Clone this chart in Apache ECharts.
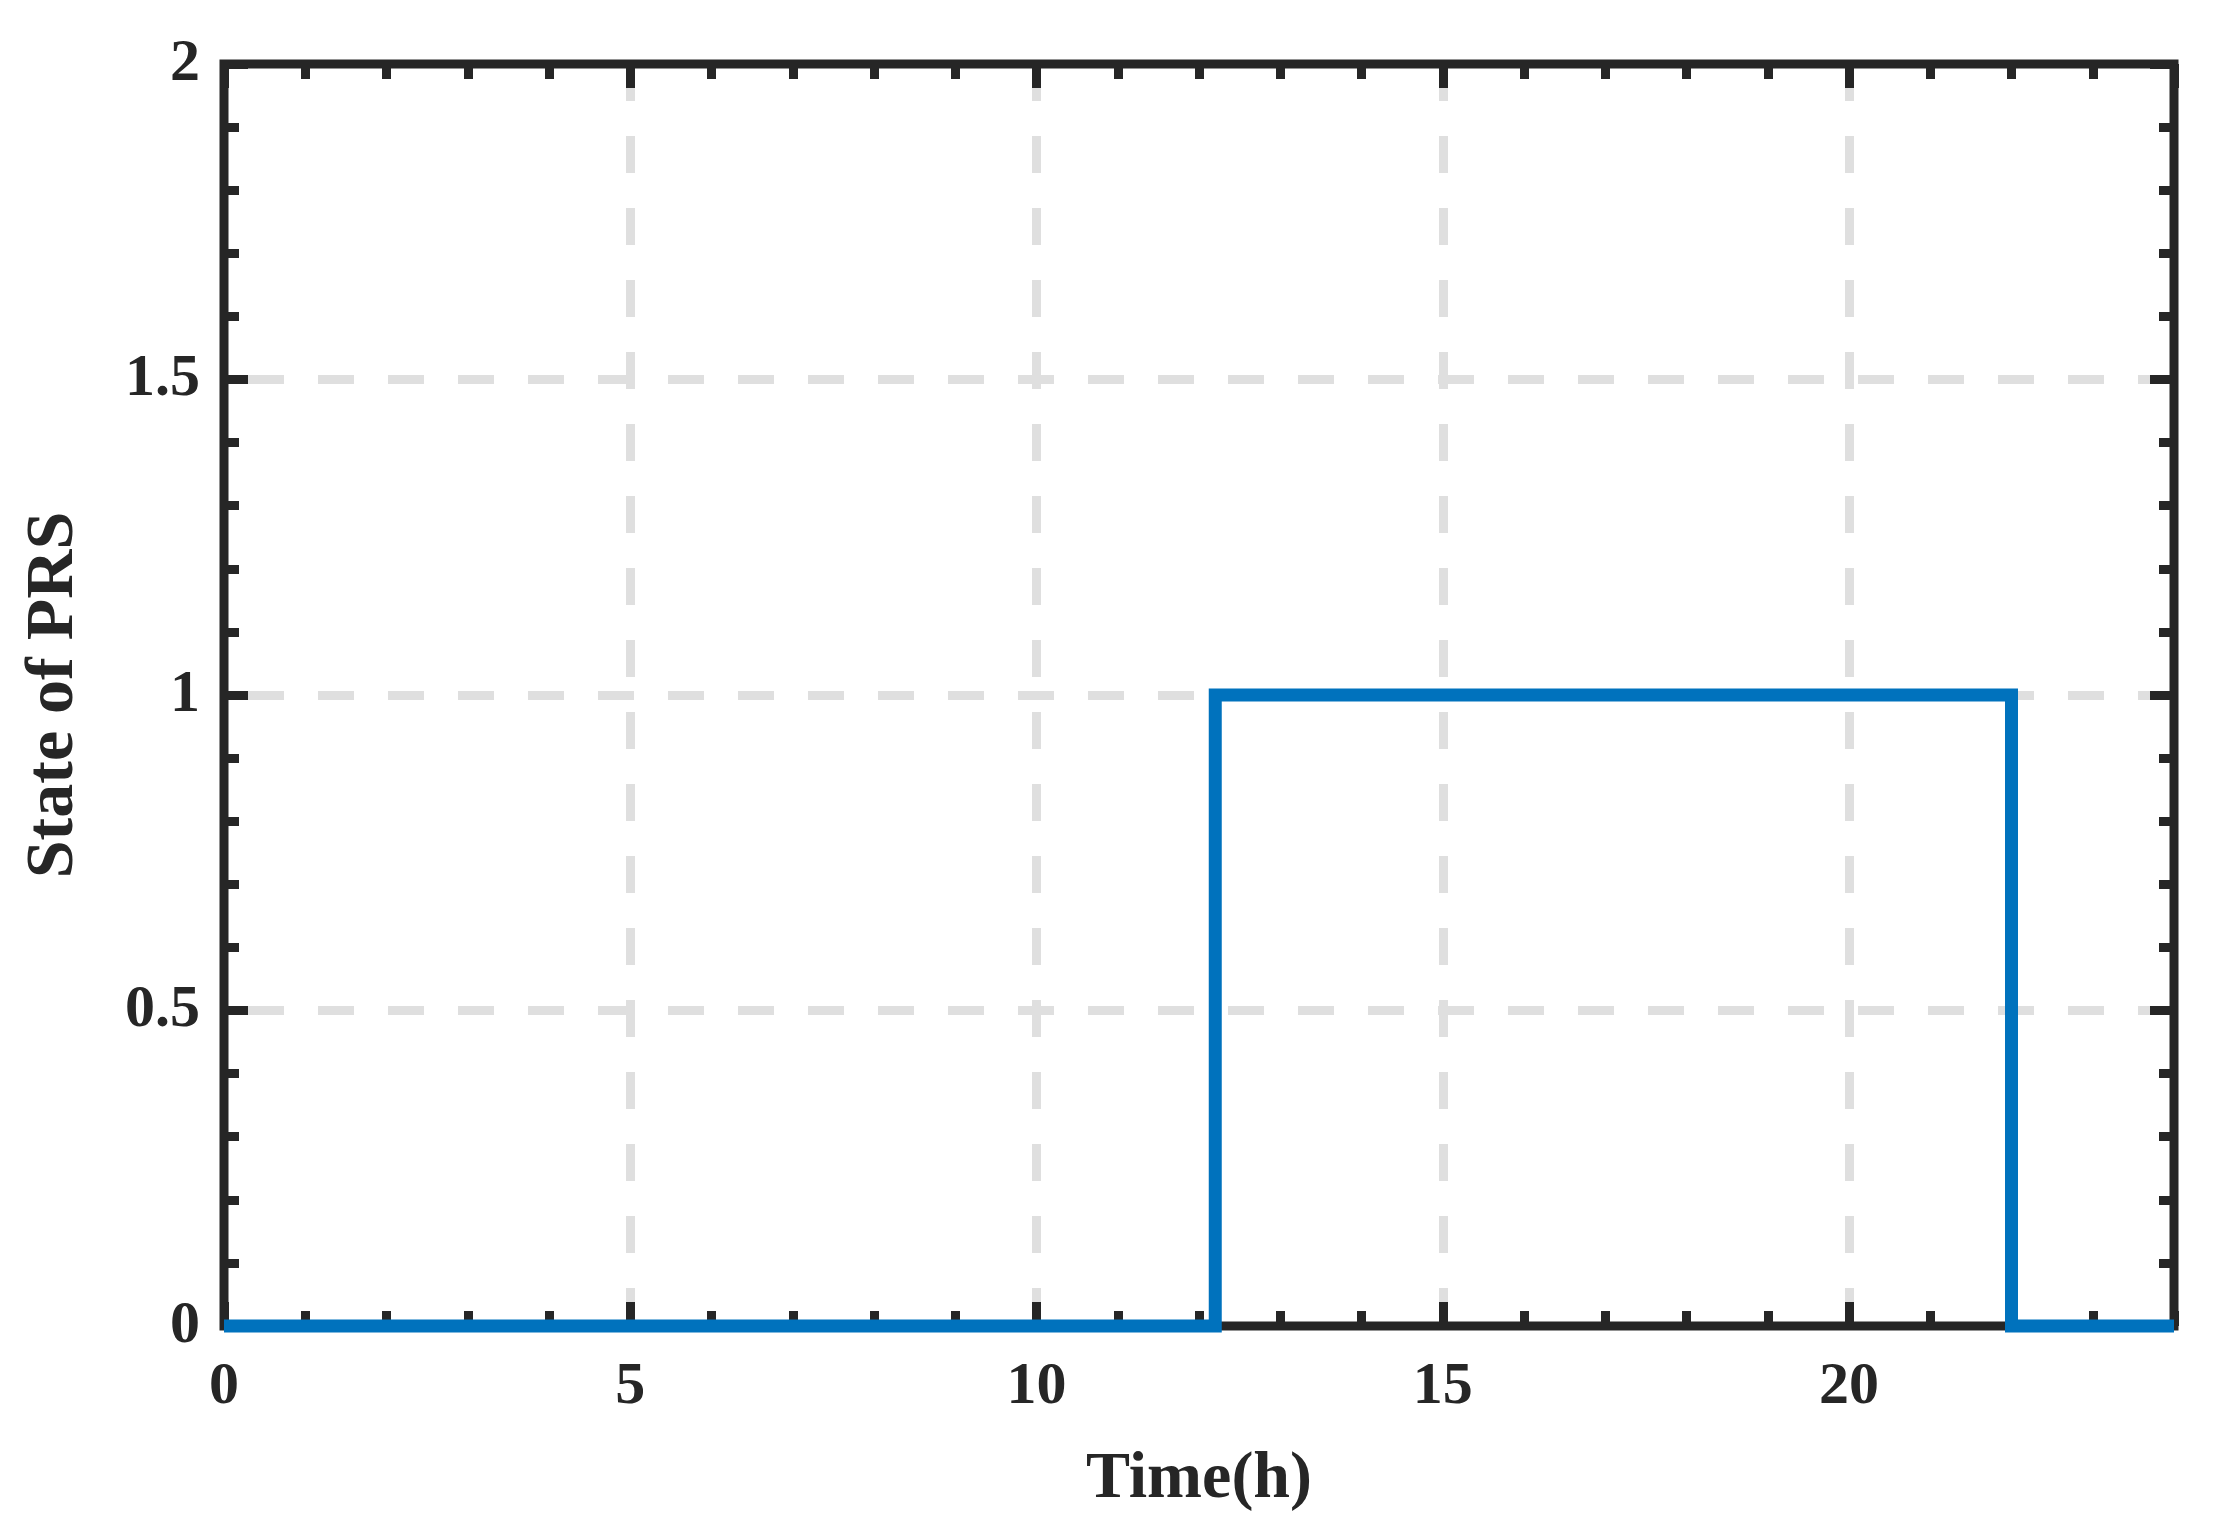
<!DOCTYPE html>
<html>
<head>
<meta charset="utf-8">
<script src="https://cdn.jsdelivr.net/npm/echarts@6/dist/echarts.min.js"></script>
<style>
html,body{margin:0;padding:0;background:#fff;}
#chart{width:2222px;height:1525px;}
</style>
</head>
<body>
<div id="chart"></div>
<script>
// Data
const timeH = [0, 12.2, 12.2, 22, 22, 24];
const prsState = [0, 0, 1, 1, 0, 0];
const xLabelTicks = [0, 5, 10, 15, 20];
const yLabelTicks = [0, 0.5, 1, 1.5, 2];

const INK = '#262626';
const FONT = 'Liberation Serif';
const chart = echarts.init(document.getElementById('chart'));

function tickAxis(position, interval, len, min, max, extra) {
  return Object.assign({
    type: 'value', position: position, min: min, max: max, interval: interval,
    axisLine: { show: false, onZero: false },
    axisTick: { show: true, inside: true, length: len, lineStyle: { color: INK, width: 9 } },
    axisLabel: { show: false },
    splitLine: { show: false }
  }, extra || {});
}

const labelStyle = { color: INK, fontFamily: FONT, fontWeight: 'bold', fontSize: 60 };

const option = {
  backgroundColor: '#ffffff',
  animation: false,
  grid: {
    left: 224, right: 48, top: 64, bottom: 199,
    show: true, borderColor: INK, borderWidth: 9, backgroundColor: 'transparent'
  },
  xAxis: [
    tickAxis('bottom', 5, 24, 0, 24, {
      axisLabel: Object.assign({ show: true, margin: 31, showMaxLabel: false,
        formatter: function (v) { return xLabelTicks.indexOf(v) >= 0 ? String(v) : ''; } }, labelStyle),
      splitLine: { show: true, showMinLine: false, showMaxLine: false,
        lineStyle: { color: '#dfdfdf', width: 9, type: [37, 35], dashOffset: 0 } },
      name: 'Time(h)', nameLocation: 'middle', nameGap: 121,
      nameTextStyle: { color: INK, fontFamily: FONT, fontWeight: 'bold', fontSize: 66 }
    }),
    tickAxis('bottom', 1, 15, 0, 24),
    tickAxis('top', 5, 24, 0, 24),
    tickAxis('top', 1, 15, 0, 24)
  ],
  yAxis: [
    tickAxis('left', 0.5, 24, 0, 2, {
      axisLabel: Object.assign({ show: true, margin: 24, padding: [0, 0, 18, 0],
        formatter: function (v) { return yLabelTicks.indexOf(v) >= 0 ? String(v) : ''; } }, labelStyle),
      splitLine: { show: true, showMinLine: false, showMaxLine: false,
        lineStyle: { color: '#dfdfdf', width: 9, type: [36, 34], dashOffset: 46 } },
      name: 'State of PRS', nameLocation: 'middle', nameGap: 136, nameRotate: 90,
      nameTextStyle: { color: INK, fontFamily: FONT, fontWeight: 'bold', fontSize: 68 }
    }),
    tickAxis('left', 0.1, 15, 0, 2),
    tickAxis('right', 0.5, 24, 0, 2),
    tickAxis('right', 0.1, 15, 0, 2)
  ],
  series: [{
    type: 'line',
    xAxisIndex: 0, yAxisIndex: 0,
    data: timeH.map(function (t, i) { return [t, prsState[i]]; }),
    symbol: 'none',
    clip: false,
    lineStyle: { color: '#0072BD', width: 13, join: 'miter', cap: 'butt' },
    z: 5
  }]
};
chart.setOption(option);
</script>
</body>
</html>
